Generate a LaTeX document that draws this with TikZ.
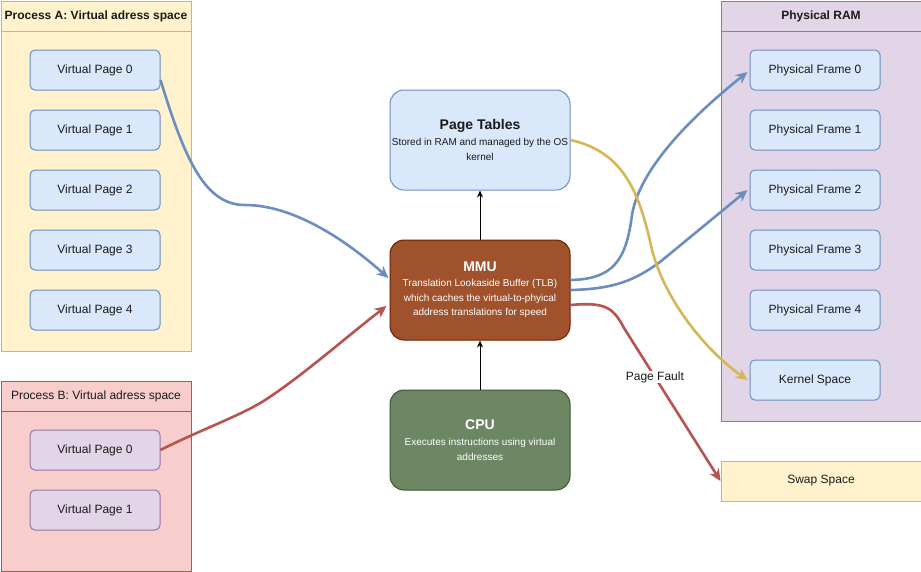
\documentclass[tikz,border=0pt]{standalone}
\usepackage{fontspec}
\setmainfont{Liberation Sans}
\usetikzlibrary{arrows.meta}
\definecolor{yfill}{HTML}{FFF2CC}
\definecolor{ydraw}{HTML}{D6B656}
\definecolor{bfill}{HTML}{DAE8FC}
\definecolor{bdraw}{HTML}{6C8EBF}
\definecolor{rfill}{HTML}{F8CECC}
\definecolor{rdraw}{HTML}{B85450}
\definecolor{pfill}{HTML}{E1D5E7}
\definecolor{pdraw}{HTML}{9673A6}
\definecolor{mfill}{HTML}{A0522D}
\definecolor{mdraw}{HTML}{6D1F00}
\definecolor{gfill}{HTML}{6D8764}
\definecolor{gdraw}{HTML}{3A5431}
\definecolor{txt}{HTML}{1A1A1A}
\newcommand{\ttlfont}{\bfseries\fontsize{14}{17}\selectfont}
\newcommand{\subfont}{\fontsize{10}{14.5}\selectfont}
\tikzset{
  base/.style={font=\fontsize{12}{14}\selectfont, text=txt, inner sep=0pt, line width=1pt},
  container/.style={base, draw=#1, anchor=north west, minimum width=190pt},
  pagebox/.style={base, rounded corners=5pt, minimum width=130pt, minimum height=40pt, draw=bdraw, fill=bfill},
  vpageB/.style={pagebox, draw=pdraw, fill=pfill},
  bigbox/.style={base, font=\subfont, rounded corners=14pt, minimum width=180pt, minimum height=100pt, align=center},
  conn/.style={line width=1pt, -{Stealth[length=7pt,width=6pt]}},
  carrow/.style={line width=2.6pt, draw=#1, -{Stealth[length=12pt,width=11pt,inset=4pt]}},
}
\begin{document}
\begin{tikzpicture}[x=1pt,y=-1pt]
\useasboundingbox[fill=white] (0,0) rectangle (921,571);
% Process A
\node[container=ydraw, fill=yfill, minimum height=350pt] (procA) at (0.5,0.5) {};
\node[container=ydraw, minimum height=30pt, font=\bfseries\fontsize{12}{14}\selectfont] (procAh) at (0.5,0.5) {Process A: Virtual adress space};
\node[pagebox] (a0) at (95,70) {Virtual Page 0};
\node[pagebox] (a1) at (95,130) {Virtual Page 1};
\node[pagebox] (a2) at (95,190) {Virtual Page 2};
\node[pagebox] (a3) at (95,250) {Virtual Page 3};
\node[pagebox] (a4) at (95,310) {Virtual Page 4};
% Process B
\node[container=rdraw, fill=rfill, minimum height=190pt] (procB) at (0.5,380.5) {};
\node[container=rdraw, minimum height=30pt] (procBh) at (0.5,380.5) {Process B: Virtual adress space};
\node[vpageB] (b0) at (95,450) {Virtual Page 0};
\node[vpageB] (b1) at (95,510) {Virtual Page 1};
% Physical RAM
\node[container=pdraw, fill=pfill, minimum width=200pt, minimum height=420pt] (ram) at (720.5,0.5) {};
\node[container=pdraw, minimum width=200pt, minimum height=30pt, font=\bfseries\fontsize{12}{14}\selectfont] (ramh) at (720.5,0.5) {Physical RAM};
\node[pagebox] (f0) at (815,70) {Physical Frame 0};
\node[pagebox] (f1) at (815,130) {Physical Frame 1};
\node[pagebox] (f2) at (815,190) {Physical Frame 2};
\node[pagebox] (f3) at (815,250) {Physical Frame 3};
\node[pagebox] (f4) at (815,310) {Physical Frame 4};
\node[pagebox] (ks) at (815,380) {Kernel Space};
% Swap
\node[container=ydraw, fill=yfill, minimum width=200pt, minimum height=40pt] (swap) at (720.5,460.5) {Swap Space};
% center boxes
\node[bigbox, draw=bdraw, fill=bfill] (pt) at (480,140) {{\ttlfont Page Tables}\\[1.5pt]Stored in RAM and managed by the OS\\kernel};
\node[bigbox, draw=mdraw, fill=mfill, text=white] (mmu) at (480,290) {{\ttlfont MMU}\\[0.5pt]Translation Lookaside Buffer (TLB)\\which caches the virtual-to-phyical\\address translations for speed};
\node[bigbox, draw=gdraw, fill=gfill, text=white] (cpu) at (480,440) {{\ttlfont CPU}\\[1.5pt]Executes instructions using virtual\\addresses};
% connectors
\draw[conn] (mmu.north) -- (pt.south);
\draw[conn] (cpu.north) -- (mmu.south);
\draw[carrow=bdraw] ([yshift=-10pt]a0.east) .. controls (185,160) and (205,205) .. (245,205) .. controls (290,205) and (340,235) .. ([yshift=12pt,xshift=-1pt]mmu.west);
\draw[carrow=rdraw] (b0.east) .. controls (200,430) and (235,418) .. (262,402) .. controls (300,378) and (345,338) .. ([yshift=-16pt,xshift=-3pt]mmu.west);
\draw[carrow=bdraw] ([yshift=10pt]mmu.east) .. controls (612,279) and (626,262) .. (632,215) .. controls (640,165) and (700,110) .. ([xshift=-2pt,yshift=-2pt]f0.west);
\draw[carrow=bdraw] (mmu.east) .. controls (615,289) and (635,280) .. (660,262) -- ([xshift=-2pt]f2.west);
\draw[carrow=ydraw] (pt.east) .. controls (625,152) and (640,195) .. (652,250) .. controls (665,300) and (705,350) .. ([xshift=-2pt]ks.west);
\draw[carrow=rdraw] ([yshift=-15pt]mmu.east) .. controls (605,302) and (613,307) .. (624,328) -- node[pos=0.32, fill=white, inner xsep=2pt, inner ysep=5pt, base] (pf) {Page Fault} (swap.west);
\end{tikzpicture}
\end{document}
